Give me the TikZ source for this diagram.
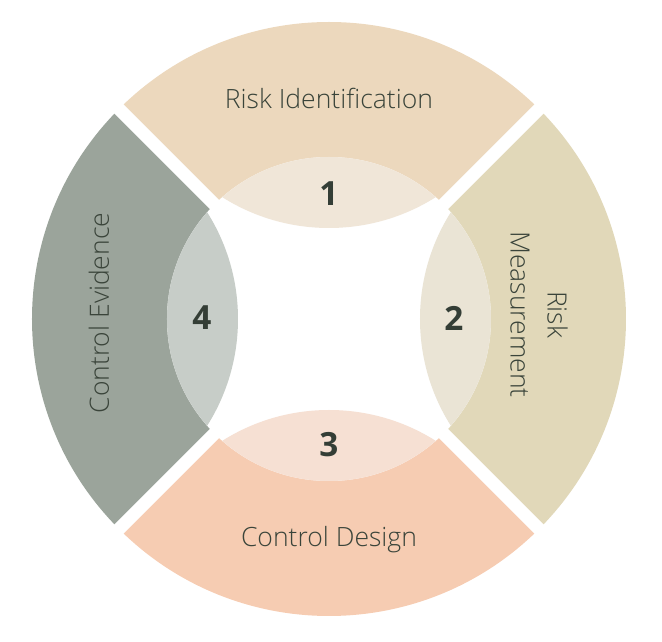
\documentclass[tikz,border=0pt]{standalone}
\usepackage{fontspec}
\IfFontExistsTF{Open Sans Light}{\newfontfamily\labelfont{Open Sans Light}}{\newfontfamily\labelfont{Open Sans}}
\newfontfamily\numfont{Open Sans}
\begin{document}
\begin{tikzpicture}[x=0.75pt,y=0.75pt,
  lbl/.style={font={\labelfont\fontsize{19.9}{27.75}\selectfont},color={rgb, 255:red, 58; green, 68; blue, 58 }},
  num/.style={font={\numfont\bfseries\fontsize{25}{30}\selectfont},color={rgb, 255:red, 52; green, 62; blue, 54 }},
  gap/.style={draw=white,line width=9.75pt}]
\useasboundingbox (-329,-323) rectangle (333,319);
\coordinate (c) at (0,0);

%Shape: Sector [Risk Identification]
\fill [color={rgb, 255:red, 236; green, 216; blue, 189 }] (c) -- (45:297) arc (45:135:297) -- cycle ;
%Shape: Sector [Risk Measurement]
\fill [color={rgb, 255:red, 225; green, 216; blue, 185 }] (c) -- (-45:297) arc (-45:45:297) -- cycle ;
%Shape: Sector [Control Design]
\fill [color={rgb, 255:red, 246; green, 204; blue, 178 }] (c) -- (225:297) arc (225:315:297) -- cycle ;
%Shape: Sector [Control Evidence]
\fill [color={rgb, 255:red, 155; green, 164; blue, 155 }] (c) -- (135:297) arc (135:225:297) -- cycle ;

%Shape: Circle [hole]
\fill [white] (c) circle (162) ;
\begin{scope}
\clip (c) circle (162) ;
%Shape: Circle [lens 1]
\fill [color={rgb, 255:red, 240; green, 230; blue, 216 }] (0,291) circle (200) ;
%Shape: Circle [lens 2]
\fill [color={rgb, 255:red, 234; green, 228; blue, 213 }] (291,0) circle (200) ;
%Shape: Circle [lens 3]
\fill [color={rgb, 255:red, 246; green, 224; blue, 211 }] (0,-291) circle (200) ;
%Shape: Circle [lens 4]
\fill [color={rgb, 255:red, 199; green, 205; blue, 200 }] (-291,0) circle (200) ;
\end{scope}

%Straight Lines [gaps]
\coordinate (gapA) at (135:305) ;
\coordinate (gapB) at (-45:305) ;
\coordinate (gapC) at (45:305) ;
\coordinate (gapD) at (225:305) ;
\draw [gap] (gapA) -- (gapB) ;
\draw [gap] (gapC) -- (gapD) ;

% Text Node
\draw (0,210) node (riskid) [lbl,anchor=base] {Risk Identification};
% Text Node
\draw (210,4.5) node (riskms) [lbl,rotate=-90,align=center] {Risk\\Measurement};
% Text Node
\draw (0,-228) node (ctrlds) [lbl,anchor=base] {Control Design};
% Text Node
\draw (-220,6) node (ctrlev) [lbl,rotate=90,anchor=base] {Control Evidence};
% Text Node
\draw (0,125.5) node (one) [num] {1};
% Text Node
\draw (125,1) node (two) [num] {2};
% Text Node
\draw (0,-126) node (three) [num] {3};
% Text Node
\draw (-127,1) node (four) [num] {4};

\end{tikzpicture}
\end{document}
